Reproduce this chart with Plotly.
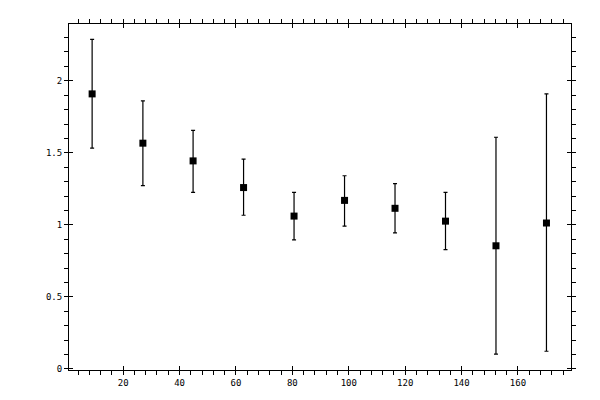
import plotly.graph_objects as go

# bin centres and measured ratio with asymmetric errors
x_vals = [9.0, 27.0, 44.8, 62.7, 80.6, 98.5, 116.4, 134.3, 152.2, 170.1]
y_vals = [1.909, 1.567, 1.444, 1.259, 1.061, 1.170, 1.115, 1.026, 0.855, 1.013]
y_upper = [2.287, 1.861, 1.656, 1.457, 1.225, 1.341, 1.286, 1.225, 1.608, 1.909]
y_lower = [1.533, 1.273, 1.225, 1.067, 0.896, 0.992, 0.944, 0.828, 0.103, 0.123]

err_plus = [u - y for u, y in zip(y_upper, y_vals)]
err_minus = [y - l for l, y in zip(y_lower, y_vals)]

xr = [0.8, 178.8]
yr = [-0.007, 2.394]

fig = go.Figure()
fig.add_trace(go.Scatter(
    x=x_vals, y=y_vals, mode="markers",
    marker=dict(symbol="square", size=7, color="black"),
    error_y=dict(type="data", symmetric=False, array=err_plus, arrayminus=err_minus,
                 color="black", thickness=1.2, width=2),
    showlegend=False,
))
# invisible trace so the overlay axes (inner tick halves) get drawn
fig.add_trace(go.Scatter(x=[xr[0]], y=[yr[0]], xaxis="x2", yaxis="y2",
                         mode="markers", marker=dict(opacity=0), showlegend=False,
                         hoverinfo="skip"))

axis_font = dict(family="DejaVu Sans Mono", size=9, color="black")
# page body adds 8px margin, so the figure is 592x392
fig.update_layout(
    width=592, height=392,
    margin=dict(l=61, r=29, t=11, b=30),
    plot_bgcolor="white", paper_bgcolor="white",
    xaxis=dict(range=xr, showgrid=False, zeroline=False, showline=True,
               linecolor="black", linewidth=1, mirror="ticks",
               ticks="outside", ticklen=4, tickcolor="black", tickwidth=1,
               tick0=0, dtick=20, tickfont=axis_font,
               minor=dict(ticks="outside", ticklen=4, dtick=4, tickcolor="black",
                          showgrid=False)),
    yaxis=dict(range=yr, showgrid=False, zeroline=False, showline=True,
               linecolor="black", linewidth=1, mirror="ticks",
               ticks="outside", ticklen=4, tickcolor="black", tickwidth=1,
               tick0=0, dtick=0.5, tickfont=axis_font,
               minor=dict(ticks="outside", ticklen=4, dtick=0.1, tickcolor="black",
                          showgrid=False)),
    xaxis2=dict(range=xr, overlaying="x", anchor="y", side="bottom",
                showgrid=False, zeroline=False, showline=False, mirror="ticks",
                ticks="inside", ticklen=4, tickcolor="black", tick0=0, dtick=20,
                showticklabels=False),
    yaxis2=dict(range=yr, overlaying="y", anchor="x", side="left",
                showgrid=False, zeroline=False, showline=False, mirror="ticks",
                ticks="inside", ticklen=4, tickcolor="black", tick0=0, dtick=0.5,
                showticklabels=False),
)

fig.write_html("out.html")
